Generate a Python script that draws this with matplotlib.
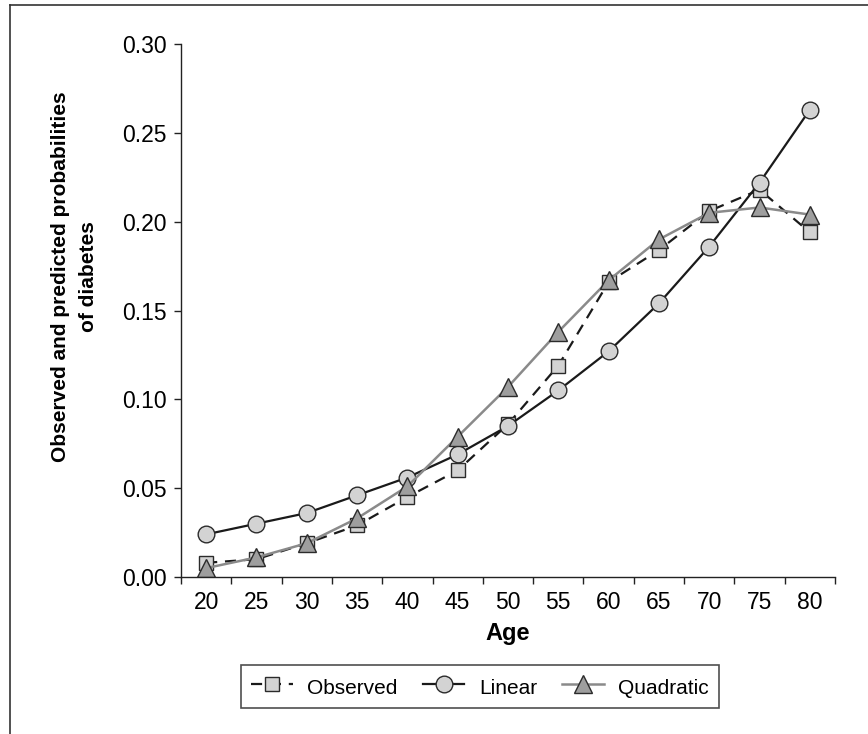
import numpy as np
import matplotlib
matplotlib.use("Agg")
import matplotlib.pyplot as plt
from matplotlib.lines import Line2D

plt.rcParams['font.family'] = ['Liberation Sans', 'DejaVu Sans']

ages = [20, 25, 30, 35, 40, 45, 50, 55, 60, 65, 70, 75, 80]
observed = [0.008, 0.010, 0.019, 0.029, 0.045, 0.060, 0.086, 0.119, 0.166, 0.184, 0.206, 0.218, 0.194]
linear = [0.024, 0.030, 0.036, 0.046, 0.056, 0.069, 0.085, 0.105, 0.127, 0.154, 0.186, 0.222, 0.263]
quadratic = [0.005, 0.011, 0.019, 0.033, 0.051, 0.079, 0.107, 0.138, 0.167, 0.190, 0.205, 0.208, 0.204]

x = np.arange(len(ages))

fig = plt.figure(figsize=(8.68, 7.34), dpi=100)
ax = fig.add_axes([0.2085, 0.2139, 0.7535, 0.7261])

edge = "#2b2b2b"
ax.plot(x, observed, color="#1a1a1a", lw=1.6, linestyle=(0, (5, 3.5)),
        marker="s", ms=10, mfc="#d3d3d3", mec=edge, mew=1.0, label="Observed")
ax.plot(x, linear, color="#1a1a1a", lw=1.6,
        marker="o", ms=12, mfc="#d3d3d3", mec=edge, mew=1.0, label="Linear")
ax.plot(x, quadratic, color="#8a8a8a", lw=1.8,
        marker="^", ms=13.5, mfc="#9e9e9e", mec=edge, mew=1.0, label="Quadratic")

ax.set_xlim(-0.5, len(ages) - 0.5)
ax.set_ylim(0, 0.30)
ax.set_yticks([0.0, 0.05, 0.10, 0.15, 0.20, 0.25, 0.30])
ax.set_yticklabels(["0.00", "0.05", "0.10", "0.15", "0.20", "0.25", "0.30"])

ax.set_xticks(np.arange(-0.5, len(ages), 1.0))
ax.set_xticklabels([])
ax.set_xticks(x, minor=True)
ax.set_xticklabels([str(a) for a in ages], minor=True)
ax.tick_params(axis="x", which="major", direction="out", length=5, width=1, color="#222222")
ax.tick_params(axis="x", which="minor", length=0, pad=10, labelsize=16.5)
ax.tick_params(axis="y", direction="out", length=5, width=1, color="#222222", pad=5, labelsize=16.5)

for s in ["top", "right"]:
    ax.spines[s].set_visible(False)
for s in ["left", "bottom"]:
    ax.spines[s].set_color("#222222")
    ax.spines[s].set_linewidth(1)

ax.set_xlabel("Age", fontsize=17, fontweight="bold", labelpad=6)
ax.set_ylabel("Observed and predicted probabilities\nof diabetes", fontsize=15,
              fontweight="bold", linespacing=1.6)
ax.yaxis.set_label_coords(-0.127, 0.563)

leg = ax.legend(loc="center", bbox_to_anchor=(0.553, 0.0647), bbox_transform=fig.transFigure,
                ncol=3, fontsize=15, frameon=True, fancybox=False, edgecolor="#222222",
                handlelength=2.0, handleheight=1.27, handletextpad=0.7, columnspacing=1.2,
                borderpad=0.5)
leg.get_frame().set_linewidth(1.2)

# outer frame
fig.add_artist(Line2D([10 / 868, 1.0], [1 - 5 / 734, 1 - 5 / 734], transform=fig.transFigure,
                      color="#333333", lw=1.2))
fig.add_artist(Line2D([10 / 868, 10 / 868], [0.0, 1 - 5 / 734], transform=fig.transFigure,
                      color="#333333", lw=1.2))

fig.savefig("out.png", dpi=100)
